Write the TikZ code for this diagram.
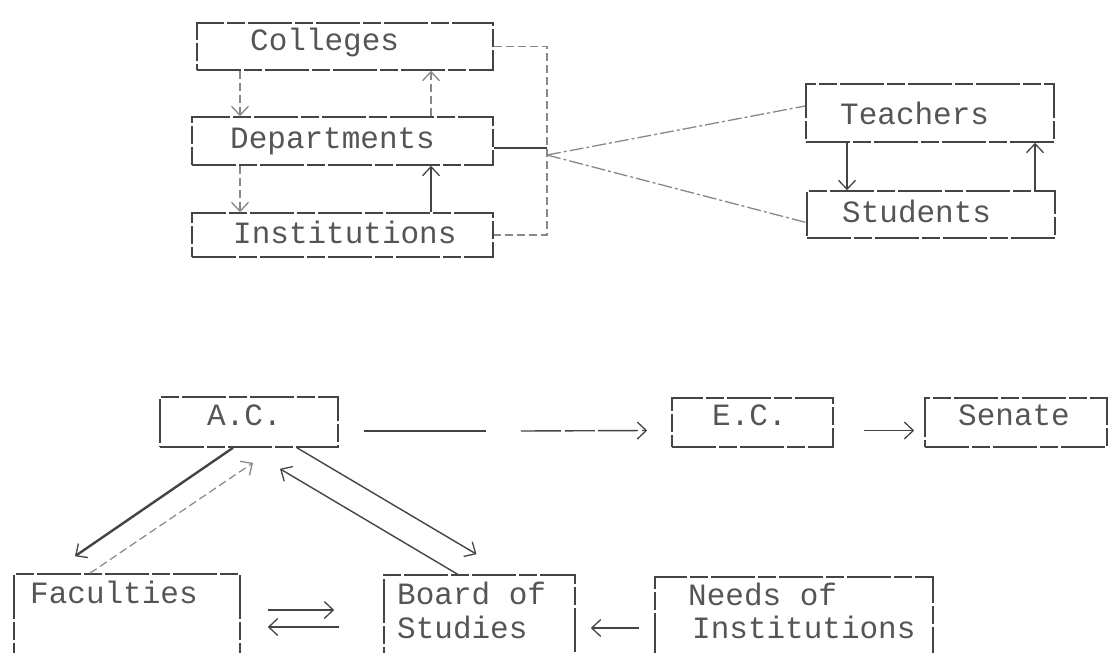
\documentclass[tikz,border=0pt]{standalone}
\usepackage{fontspec}
\setmainfont{Liberation Mono}
\usetikzlibrary{arrows.meta}
\definecolor{linec}{HTML}{444444}
\definecolor{lightc}{HTML}{888888}
\definecolor{txtc}{HTML}{555555}
\tikzset{
  boxshape/.style={draw=linec, line width=1.6pt, rectangle, inner sep=0pt,
    dash pattern=on 44pt off 3pt on 18pt off 3pt},
  lbl/.style={anchor=base west, inner sep=0pt, text=txtc,
    font=\fontsize{31}{34}\selectfont},
  tipV/.style={-{Straight Barb[length=9pt,width=17pt,line width=1.3pt]}},
  connA/.style={draw=linec, line width=1.4pt},
  connD/.style={draw=lightc, line width=1.2pt, dash pattern=on 8pt off 4pt},
  connDD/.style={draw=lightc, line width=1.3pt, dash pattern=on 14pt off 3pt on 3pt off 3pt},
  connT/.style={draw=linec, line width=2.4pt},
}
\begin{document}
\begin{tikzpicture}[x=1pt,y=-1pt]
\useasboundingbox (0,0) rectangle (1108,653);

% ---------- top group ----------
\node[boxshape, minimum width=296pt, minimum height=47pt] (col) at (345,46.5) {};
\node[lbl] (colT) at (250,50) {Colleges};
\node[boxshape, minimum width=301pt, minimum height=48pt] (dep) at (342.5,141) {};
\node[lbl] (depT) at (230,148) {Departments};
\node[boxshape, minimum width=301pt, minimum height=44pt] (ins) at (342.5,235) {};
\node[lbl] (insT) at (233,243) {Institutions};

\node[boxshape, minimum width=248pt, minimum height=58pt] (tea) at (930,113) {};
\node[lbl] (teaT) at (840,124) {Teachers};
\node[boxshape, minimum width=248pt, minimum height=47pt] (stu) at (931,214.5) {};
\node[lbl] (stuT) at (842,222) {Students};

\coordinate (xL) at (240,0);
\coordinate (xR) at (431,0);
\coordinate (xT) at (847,0);
\coordinate (xS) at (1035,0);
\coordinate (jn) at (547,155);

\draw[connD, tipV] (col.south -| xL) -- (dep.north -| xL);
\draw[connD, tipV] (dep.north -| xR) -- (col.south -| xR);
\draw[connD, tipV] (dep.south -| xL) -- (ins.north -| xL);
\draw[connA, tipV] (ins.north -| xR) -- (dep.south -| xR);

\draw[connD] (col.east) -| (jn) |- (ins.east);
\draw[connA] ([yshift=-7pt]dep.east) -- ([yshift=-7pt]dep.east -| jn);
\draw[connDD] (jn) -- ([yshift=7pt]tea.west);
\draw[connDD] (jn) -- ([yshift=-8pt]stu.west);

\draw[connA, tipV] (tea.south -| xT) -- (stu.north -| xT);
\draw[connA, tipV] (stu.north -| xS) -- (tea.south -| xS);

% ---------- bottom group ----------
\node[boxshape, minimum width=178pt, minimum height=50pt] (ac) at (249,422) {};
\node[lbl] (acT) at (207,425) {A.C.};
\node[boxshape, minimum width=161pt, minimum height=49pt] (ec) at (752.5,422.5) {};
\node[lbl] (ecT) at (712,425) {E.C.};
\node[boxshape, minimum width=182pt, minimum height=49pt] (sen) at (1016,422.5) {};
\node[lbl] (senT) at (958,425) {Senate};

\node[boxshape, minimum width=226pt, minimum height=91pt] (fac) at (127,619.5) {};
\node[lbl] (facT) at (30,603) {Faculties};
\node[boxshape, minimum width=191pt, minimum height=90pt] (bos) at (479.5,620) {};
\node[lbl] (bosT1) at (397,604) {Board of};
\node[lbl] (bosT2) at (397,638) {Studies};
\node[boxshape, minimum width=278pt, minimum height=88pt] (nee) at (794,621) {};
\node[lbl] (neeT1) at (688,605) {Needs of};
\node[lbl] (neeT2) at (692,638) {Institutions};

\draw[connA] ([xshift=25pt,yshift=-9pt]ac.east) -- ([xshift=147pt,yshift=-9pt]ac.east);
\draw[connA, tipV, dash pattern=on 40pt off 4pt on 30pt off 3pt] ([xshift=182pt,yshift=-9pt]ac.east) -- ([xshift=-24pt,yshift=-8pt]ec.west);
\draw[connA, tipV] ([xshift=30pt,yshift=-8pt]ec.east) -- ([xshift=-10pt,yshift=-8pt]sen.west);

\draw[connT, tipV] ([xshift=-16pt]ac.south) -- ([xshift=-52pt,yshift=17pt]fac.north);
\draw[connD, tipV] ([xshift=-37pt]fac.north) -- ([xshift=4pt,yshift=-15pt]ac.south);
\draw[connA, tipV] ([xshift=48pt]ac.south) -- ([xshift=-3pt,yshift=20pt]bos.north);
\draw[connA, tipV] ([xshift=-22pt]bos.north) -- ([xshift=31pt,yshift=-21pt]ac.south);

\draw[connA, tipV] ([xshift=27pt,yshift=9.5pt]fac.east) -- ([xshift=-49pt,yshift=10pt]bos.west);
\draw[connA, tipV] ([xshift=-44pt,yshift=-7pt]bos.west) -- ([xshift=27pt,yshift=-7.5pt]fac.east);
\draw[connA, tipV] ([xshift=-15pt,yshift=-7pt]nee.west) -- ([xshift=15pt,yshift=-8pt]bos.east);
\end{tikzpicture}
\end{document}
